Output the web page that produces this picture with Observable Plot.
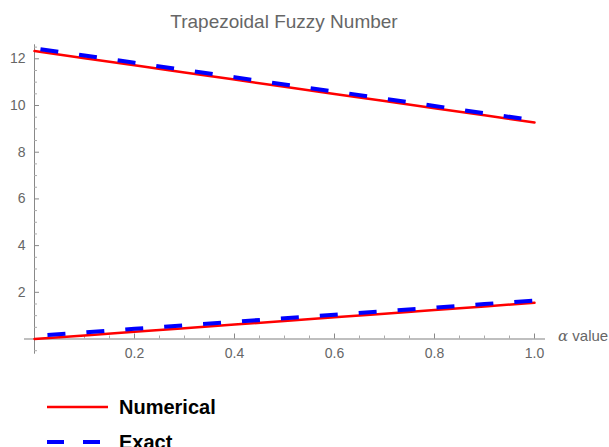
<!DOCTYPE html>
<html>
<head>
<meta charset="utf-8">
<script src="https://cdn.jsdelivr.net/npm/d3@7"></script>
<script src="https://cdn.jsdelivr.net/npm/@observablehq/plot@0.6"></script>
<style>
  html, body { margin: 0; padding: 0; background: #fff; }
  #wrap { position: relative; width: 609px; height: 447px; overflow: hidden; font-family: "Liberation Sans", Arial, sans-serif; }
  #title { position: absolute; left: 0; top: 12px; width: 568px; text-align: center; color: #666; font-size: 19px; line-height: 1; white-space: nowrap; }
  #xlabel { position: absolute; left: 558px; top: 328px; color: #666; font-size: 15px; line-height: 1; white-space: nowrap; }
  #xlabel i { font-family: "DejaVu Serif", serif; }
  .leg { position: absolute; left: 119px; font-size: 20px; font-weight: bold; color: #000; line-height: 1; white-space: nowrap; }
  #legsvg { position: absolute; left: 0; top: 0; }
  #chart { position: absolute; left: 0; top: 0; }
</style>
</head>
<body>
<div id="wrap">
  <div id="chart"></div>
  <div id="title"></div>
  <div id="xlabel"></div>
  <div id="legend"></div>
</div>
<script>
// ---- data ----
const titleText = "Trapezoidal Fuzzy Number";
const xAxisLabel = "value";
const seriesNames = ["Numerical", "Exact"];
const alpha = [0, 0.1, 0.2, 0.3, 0.4, 0.5, 0.6, 0.7, 0.8, 0.9, 1.0];
const numericalLower = [0.00, 0.155, 0.31, 0.465, 0.62, 0.775, 0.93, 1.085, 1.24, 1.395, 1.55];
const numericalUpper = [12.33, 12.02, 11.72, 11.41, 11.11, 10.80, 10.49, 10.19, 9.88, 9.58, 9.27];
const exactLower = [0.13, 0.28, 0.44, 0.59, 0.74, 0.89, 1.04, 1.19, 1.34, 1.50, 1.65];
const exactUpper = [12.45, 12.14, 11.83, 11.52, 11.21, 10.90, 10.60, 10.29, 9.98, 9.67, 9.36];
const xMajorTicks = [0.2, 0.4, 0.6, 0.8, 1.0];
const xMinorTicks = [0.05, 0.1, 0.15, 0.25, 0.3, 0.35, 0.45, 0.5, 0.55, 0.65, 0.7, 0.75, 0.85, 0.9, 0.95];
const yMajorTicks = [2, 4, 6, 8, 10, 12];
const yMinorTicks = [-0.5, 0.5, 1, 1.5, 2.5, 3, 3.5, 4.5, 5, 5.5, 6.5, 7, 7.5, 8.5, 9, 9.5, 10.5, 11, 11.5, 12.5];
const xDomain = [-0.02, 1.022];
const yDomain = [-0.65, 12.6];

// ---- table ----
const rows = alpha.map((a, i) => ({
  alpha: a,
  numericalLower: numericalLower[i],
  numericalUpper: numericalUpper[i],
  exactLower: exactLower[i],
  exactUpper: exactUpper[i]
}));

const red = "#ff0000";
const blue = "#0000ff";
const labelGray = "#666";

const chart = Plot.plot({
  width: 609,
  height: 447,
  marginTop: 44.3,
  marginBottom: 93.3,
  marginLeft: 24,
  marginRight: 64,
  x: { domain: xDomain, axis: null },
  y: { domain: yDomain, axis: null },
  style: { fontFamily: "'Liberation Sans', Arial, sans-serif", fontSize: "14px", background: "transparent", overflow: "visible" },
  marks: [
    // axes
    Plot.ruleY([0], { y: d => d, x1: () => xDomain[0], x2: () => xDomain[1], stroke: "#aaa", strokeWidth: 1.6 }),
    Plot.ruleX([0], { x: d => d, y1: () => yDomain[0], y2: () => yDomain[1], stroke: "#888", strokeWidth: 1 }),
    Plot.ruleX(xMajorTicks, { x: d => d, y1: () => 0, y2: () => 0, insetTop: -5, stroke: "#888", strokeWidth: 1 }),
    Plot.ruleX(xMinorTicks, { x: d => d, y1: () => 0, y2: () => 0, insetTop: -3, stroke: "#aaa", strokeWidth: 1 }),
    Plot.ruleY(yMajorTicks, { y: d => d, x1: () => 0, x2: () => 0, insetRight: -5, stroke: "#888", strokeWidth: 1 }),
    Plot.ruleY(yMinorTicks, { y: d => d, x1: () => 0, x2: () => 0, insetRight: -3, stroke: "#aaa", strokeWidth: 1 }),
    Plot.text(xMajorTicks, { x: d => d, y: () => 0, text: d => d.toFixed(1), dy: 14, fill: labelGray, fontSize: 14 }),
    Plot.text(yMajorTicks, { x: () => 0, y: d => d, text: d => String(d), textAnchor: "end", dx: -9, fill: labelGray, fontSize: 14 }),
    // Numerical
    Plot.line(rows, { x: "alpha", y: "numericalLower", stroke: red, strokeWidth: 2.5 }),
    Plot.line(rows, { x: "alpha", y: "numericalUpper", stroke: red, strokeWidth: 2.5 }),
    // Exact
    Plot.line(rows, { x: "alpha", y: "exactLower", stroke: blue, strokeWidth: 4, strokeDasharray: "18,21", strokeDashoffset: -13, strokeLinecap: "butt" }),
    Plot.line(rows, { x: "alpha", y: "exactUpper", stroke: blue, strokeWidth: 4, strokeDasharray: "18,21", strokeDashoffset: -6, strokeLinecap: "butt" })
  ]
});
document.getElementById("chart").appendChild(chart);

document.getElementById("title").textContent = titleText;
document.getElementById("xlabel").innerHTML = "<i>α</i> " + xAxisLabel;

// legend
const legend = document.getElementById("legend");
const ns = "http://www.w3.org/2000/svg";
const lsvg = document.createElementNS(ns, "svg");
lsvg.setAttribute("id", "legsvg");
lsvg.setAttribute("width", "120");
lsvg.setAttribute("height", "447");
const legendStyles = [
  { y: 407, stroke: red, width: 2.5, dash: null },
  { y: 442, stroke: blue, width: 4, dash: "17,19" }
];
legendStyles.forEach((s, i) => {
  const ln = document.createElementNS(ns, "line");
  ln.setAttribute("x1", 47); ln.setAttribute("x2", 108);
  ln.setAttribute("y1", s.y); ln.setAttribute("y2", s.y);
  ln.setAttribute("stroke", s.stroke);
  ln.setAttribute("stroke-width", s.width);
  if (s.dash) ln.setAttribute("stroke-dasharray", s.dash);
  lsvg.appendChild(ln);
  const t = document.createElement("div");
  t.className = "leg";
  t.style.top = (s.y - 9.6) + "px";
  t.textContent = seriesNames[i];
  legend.appendChild(t);
});
legend.appendChild(lsvg);
</script>
</body>
</html>
